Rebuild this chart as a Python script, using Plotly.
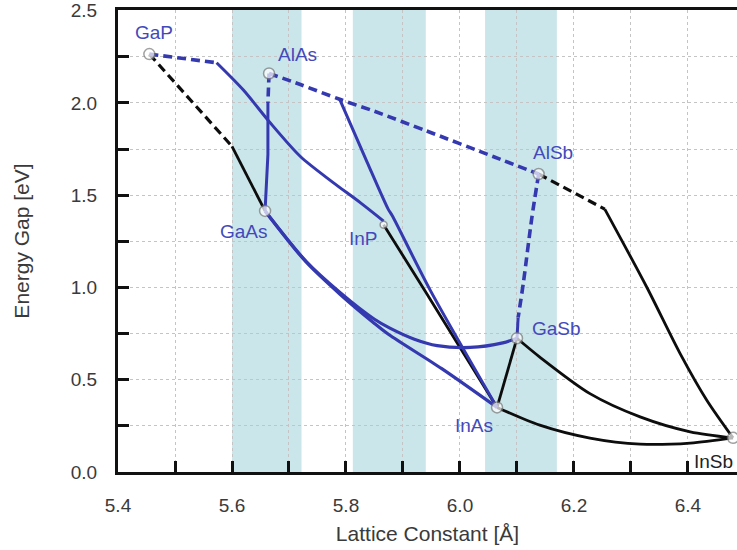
import plotly.graph_objects as go

# III-V compounds: lattice constant (Å) and band gap (eV)
compounds = ["GaP", "AlAs", "GaAs", "InP", "AlSb", "GaSb", "InAs", "InSb"]
compound_a = [5.455, 5.665, 5.658, 5.866, 6.138, 6.100, 6.065, 6.479]
compound_eg = [2.265, 2.160, 1.415, 1.340, 1.615, 0.725, 0.350, 0.185]

# Lattice-matched substrate bands (Å)
band_lo = [5.600, 5.812, 6.044]
band_hi = [5.722, 5.940, 6.170]

# Axis ticks
x_ticks = [5.4, 5.6, 5.8, 6.0, 6.2, 6.4]
y_ticks = [0.0, 0.5, 1.0, 1.5, 2.0, 2.5]

# Ternary alloy curves
# GaP-InP
gainp_ind_a = [5.455, 5.573]
gainp_ind_eg = [2.265, 2.218]
gainp_a = [5.573, 5.620, 5.665, 5.720, 5.777, 5.825, 5.866]
gainp_eg = [2.218, 2.070, 1.900, 1.710, 1.570, 1.460, 1.360]

# AlAs-GaAs
algaas_ind_a = [5.665, 5.663]
algaas_ind_eg = [2.160, 2.000]
algaas_a = [5.663, 5.663, 5.658]
algaas_eg = [2.000, 1.720, 1.415]

# AlAs-AlSb (indirect)
alassb_a = [5.665, 5.720, 5.789, 5.850, 5.940, 6.058, 6.138]
alassb_eg = [2.160, 2.100, 2.020, 1.955, 1.850, 1.710, 1.615]

# AlAs-InAs
alinas_a = [5.789, 5.837, 5.874, 5.881, 5.947, 6.065]
alinas_eg = [2.020, 1.680, 1.425, 1.390, 0.990, 0.350]

# GaAs-InAs
ingaas_a = [5.658, 5.730, 5.790, 5.850, 5.875, 5.968, 6.065]
ingaas_eg = [1.415, 1.138, 0.962, 0.805, 0.745, 0.560, 0.350]

# GaAs-GaSb
gaassb_a = [5.658, 5.730, 5.790, 5.850, 5.877, 5.920, 5.960, 6.018, 6.075, 6.100]
gaassb_eg = [1.415, 1.142, 0.972, 0.828, 0.780, 0.720, 0.685, 0.675, 0.700, 0.725]

# AlSb-GaSb
algasb_ind_a = [6.138, 6.126, 6.111, 6.102]
algasb_ind_eg = [1.615, 1.377, 1.021, 0.837]
algasb_a = [6.102, 6.100]
algasb_eg = [0.837, 0.725]

# GaP-GaAs
gaasp_ind_a = [5.455, 5.600]
gaasp_ind_eg = [2.265, 1.765]
gaasp_a = [5.600, 5.658]
gaasp_eg = [1.765, 1.415]

# InP-InAs
inasp_a = [5.866, 5.939, 6.065]
inasp_eg = [1.340, 0.980, 0.350]

# GaSb-InAs
gasb_inas_a = [6.100, 6.065]
gasb_inas_eg = [0.725, 0.350]

# GaSb-InSb
ingasb_a = [6.100, 6.140, 6.228, 6.316, 6.404, 6.479]
ingasb_eg = [0.725, 0.623, 0.425, 0.299, 0.218, 0.185]

# InAs-InSb
inassb_a = [6.065, 6.140, 6.228, 6.316, 6.404, 6.479]
inassb_eg = [0.350, 0.254, 0.184, 0.151, 0.157, 0.185]

# AlSb-InSb
alinsb_ind_a = [6.138, 6.198, 6.254]
alinsb_ind_eg = [1.615, 1.515, 1.425]
alinsb_a = [6.254, 6.328, 6.386, 6.433, 6.479]
alinsb_eg = [1.425, 1.000, 0.643, 0.389, 0.185]

BLUE = "#3539b0"
LABEL_BLUE = "#4349bb"
BLACK = "#0d0d0d"
FONT = "Liberation Sans, Arial, sans-serif"
GRID = "#c4c4c4"

fig = go.Figure()


def seg(a, eg, color, dashed=False, width=3.0, smooth=True):
    fig.add_trace(go.Scatter(
        x=a, y=eg, mode="lines",
        line=dict(color=color, width=width,
                  dash="9px,5px" if dashed else "solid",
                  shape="spline" if smooth else "linear",
                  smoothing=0.8),
        hoverinfo="skip", showlegend=False))


# black curves
seg(gaasp_ind_a, gaasp_ind_eg, BLACK, dashed=True, width=3.2, smooth=False)
seg(gaasp_a, gaasp_eg, BLACK, width=2.8, smooth=False)
seg(inasp_a, inasp_eg, BLACK, width=2.8)
seg(gasb_inas_a, gasb_inas_eg, BLACK, width=2.8, smooth=False)
seg(ingasb_a, ingasb_eg, BLACK, width=2.8)
seg(inassb_a, inassb_eg, BLACK, width=2.8)
seg(alinsb_ind_a, alinsb_ind_eg, BLACK, dashed=True, width=3.2, smooth=False)
seg(alinsb_a, alinsb_eg, BLACK, width=2.8)

# blue curves
seg(gainp_ind_a, gainp_ind_eg, BLUE, dashed=True, width=3.6, smooth=False)
seg(gainp_a, gainp_eg, BLUE, width=3.0)
seg(algaas_ind_a, algaas_ind_eg, BLUE, dashed=True, width=3.6, smooth=False)
seg(algaas_a, algaas_eg, BLUE, width=3.0, smooth=False)
seg(alassb_a, alassb_eg, BLUE, dashed=True, width=3.6)
seg(alinas_a, alinas_eg, BLUE, width=3.0)
seg(ingaas_a, ingaas_eg, BLUE, width=3.2)
seg(gaassb_a, gaassb_eg, BLUE, width=3.2)
seg(algasb_ind_a, algasb_ind_eg, BLUE, dashed=True, width=3.6)
seg(algasb_a, algasb_eg, BLUE, width=3.0, smooth=False)

# binary compounds
fig.add_trace(go.Scatter(
    x=compound_a, y=compound_eg, mode="markers",
    marker=dict(size=[7 if n == "InP" else 11 for n in compounds],
                color="white", line=dict(color="#7a7a7a", width=1.5)),
    cliponaxis=False, hoverinfo="skip", showlegend=False))

# label offsets (pixels) relative to each compound point
label_dx = {"GaP": 5, "AlAs": 28, "GaAs": -21, "InP": -20,
            "AlSb": 14, "GaSb": 40, "InAs": -23, "InSb": -20}
label_dy = {"GaP": 22, "AlAs": 19, "GaAs": -21, "InP": -14,
            "AlSb": 22, "GaSb": 10, "InAs": -18, "InSb": -24}
for n, a, eg in zip(compounds, compound_a, compound_eg):
    fig.add_annotation(
        x=a, y=eg, text=n, showarrow=False,
        xshift=label_dx[n], yshift=label_dy[n],
        xanchor="center", yanchor="middle",
        font=dict(family=FONT, size=19,
                  color="#222222" if n == "InSb" else LABEL_BLUE))

for lo, hi in zip(band_lo, band_hi):
    fig.add_shape(type="rect", xref="x", yref="paper", x0=lo, x1=hi,
                  y0=0, y1=1, fillcolor="#cbe6ea", line=dict(width=0),
                  layer="below")

tick_style = dict(ticks="inside", ticklen=11, tickwidth=3, tickcolor="#111")
minor_style = dict(ticks="inside", ticklen=11, tickwidth=3, tickcolor="#111",
                   showgrid=True, gridcolor=GRID, griddash="dot", gridwidth=1)

fig.update_layout(
    width=737, height=550,
    margin=dict(l=118, r=0, t=8, b=78),
    plot_bgcolor="white", paper_bgcolor="white",
    font=dict(family=FONT, size=19, color="#3a3a3a"),
    xaxis=dict(
        range=[5.4, 6.486], tickmode="array", tickvals=x_ticks,
        ticktext=[f"{v:.1f}" for v in x_ticks], **tick_style,
        showline=True, linecolor="#111", linewidth=3, mirror=True,
        showgrid=True, gridcolor=GRID, griddash="dot", gridwidth=1,
        zeroline=False, ticklabelstandoff=14,
        minor=dict(dtick=0.1, tick0=5.4, **minor_style),
        title=dict(text="Lattice Constant [Å]", font=dict(size=21),
                   standoff=12),
    ),
    yaxis=dict(
        range=[0, 2.504], tickmode="array", tickvals=y_ticks,
        ticktext=[f"{v:.1f}" for v in y_ticks], **tick_style,
        showline=True, linecolor="#111", linewidth=3, mirror=False,
        showgrid=True, gridcolor=GRID, griddash="dot", gridwidth=1,
        zeroline=False, ticklabelstandoff=14, ticklabeloverflow="allow",
        minor=dict(dtick=0.25, tick0=0, **minor_style),
        title=dict(text="Energy Gap [eV]", font=dict(size=21), standoff=36),
    ),
)

fig.write_html("out.html")
